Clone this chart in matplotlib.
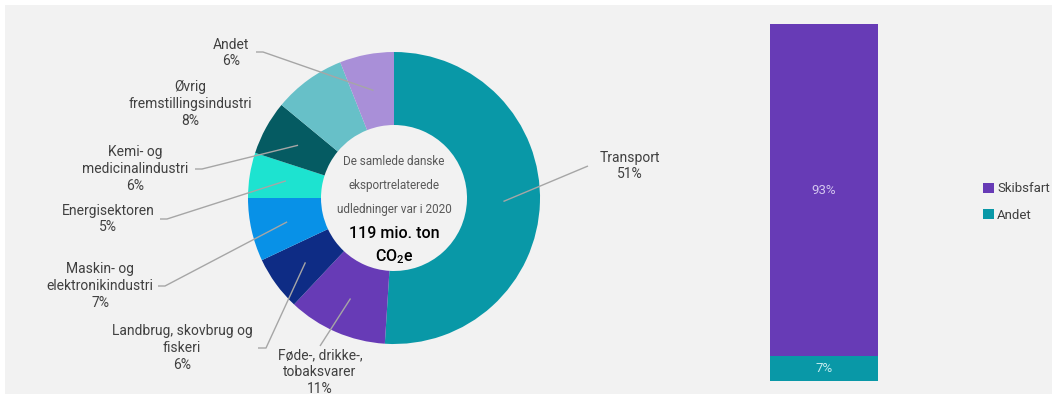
import numpy as np
import matplotlib.pyplot as plt
from matplotlib.patches import Rectangle, Patch

plt.rcParams['font.family'] = ['Roboto', 'DejaVu Sans']
plt.rcParams['mathtext.default'] = 'regular'

# --- eksportrelaterede udledninger fordelt på sektorer (andel i pct.)
sectors = ['Transport', 'Føde-, drikke-,\ntobaksvarer', 'Landbrug, skovbrug og\nfiskeri',
           'Maskin- og\nelektronikindustri', 'Energisektoren', 'Kemi- og\nmedicinalindustri',
           'Øvrig\nfremstillingsindustri', 'Andet']
shares = [51, 11, 6, 7, 5, 6, 8, 6]
sector_colors = ['#0998a7', '#673bb6', '#0e2c85', '#0891e7', '#1de3d0', '#055b62', '#67c0c8', '#a98fd8']

# --- transportens udledninger: skibsfart vs. andet
transport_parts = ['Skibsfart', 'Andet']
transport_shares = [93, 7]
transport_colors = ['#673bb6', '#0998a7']

total_text = ['De samlede danske', 'eksportrelaterede', 'udledninger var i 2020']
total_value = '119 mio. ton'

W, H = 1053, 394
fig = plt.figure(figsize=(W / 100, H / 100), dpi=100, facecolor='white')
fig.patches.append(Rectangle((5 / W, 0), 1047 / W, 389 / H, transform=fig.transFigure,
                             facecolor='#f2f2f2', edgecolor='none', zorder=-10))

# axes in pixel units, y pointing down
ax = fig.add_axes((0, 0, 1, 1))
cx, cy, R = 394, 198, 146
ax.pie(shares, colors=sector_colors, startangle=-90, counterclock=True,
       center=(cx, cy), radius=R, wedgeprops=dict(width=R / 2, linewidth=0))
ax.set_xlim(0, W)
ax.set_ylim(H, 0)
ax.set_aspect('equal')
ax.axis('off')

# label positions (text centre) and the start of each leader line
label_xy = [(630, 166), (320, 372), (182, 348), (100, 286), (108, 219), (135, 169), (190, 104), (231, 53)]
stub = [(588, 166), (320, 346), (258, 348), (158, 286), (160, 219), (195, 169), None, (256, 52)]
stub_len = [0, 0, 8, 7, 7, 7, 0, 7]

cum = np.cumsum(shares) - np.array(shares) / 2
r_mid = R * 0.75
for i, name in enumerate(sectors):
    lx, ly = label_xy[i]
    ax.text(lx, ly, f'{name}\n{shares[i]}%', ha='center', va='center', fontsize=10,
            color='#404040', linespacing=1.25)
    if stub[i] is None:
        continue
    ang = np.deg2rad(-90 + 360 * cum[i] / 100)
    px, py = cx + r_mid * np.cos(ang), cy + r_mid * np.sin(ang)
    sx, sy = stub[i]
    ax.plot([sx, sx + stub_len[i], px], [sy, sy, py], color='#a6a6a6', lw=1, solid_capstyle='butt')

for j, line in enumerate(total_text):
    ax.text(cx, 161 + 24 * j, line, ha='center', va='center', fontsize=8.5, color='#595959')
ax.text(cx, 233, total_value, ha='center', va='center', fontsize=11.5, color='black', fontweight='medium')
ax.text(cx, 257, 'CO$_2$e', ha='center', va='center', fontsize=11.5, color='black', fontweight='medium')

# --- stacked bar for transport
bx = fig.add_axes((770 / W, (H - 381) / H, 108 / W, 357 / H))
bottom = 0
for part, val, col in zip(transport_parts[::-1], transport_shares[::-1], transport_colors[::-1]):
    bx.bar(0, val, bottom=bottom, width=1, color=col, linewidth=0)
    bx.text(0, bottom + val / 2, f'{val}%', ha='center', va='center', fontsize=9.5,
            color='#d4c6ef' if part == 'Skibsfart' else '#c4ecef')
    bottom += val
bx.set_xlim(-0.5, 0.5)
bx.set_ylim(0, 100)
bx.axis('off')

handles = [Patch(facecolor=c, edgecolor='none') for c in transport_colors]
fig.legend(handles, transport_parts, loc='center left', bbox_to_anchor=(978 / W, 1 - 202 / H),
           frameon=False, fontsize=9.5, handlelength=0.8, handleheight=0.8,
           handletextpad=0.25, labelspacing=1.0, labelcolor='#404040', borderaxespad=0)

fig.savefig('out.png', dpi=100, facecolor=fig.get_facecolor())
